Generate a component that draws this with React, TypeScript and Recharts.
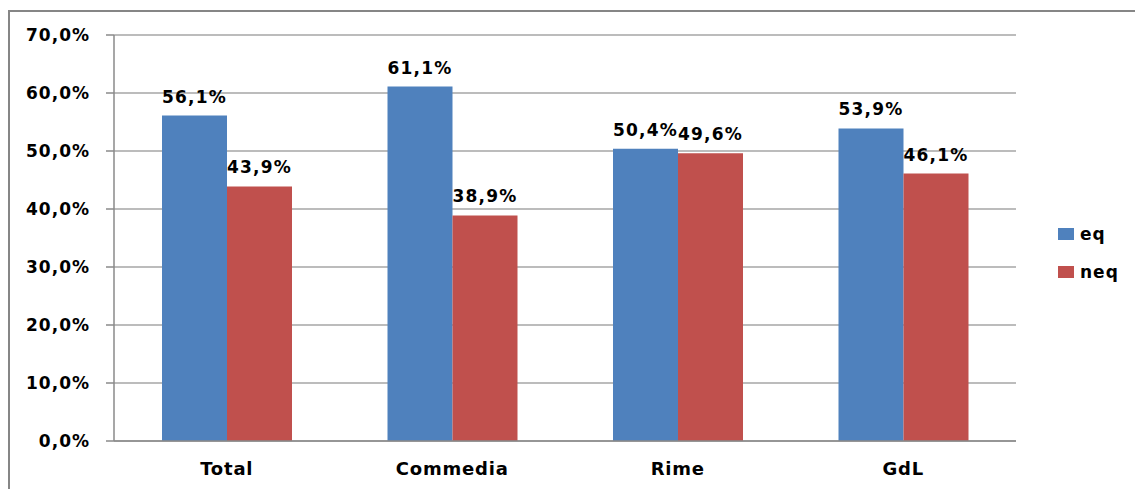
import React from 'react';
import { BarChart, Bar, XAxis, YAxis, CartesianGrid, LabelList, Legend } from 'recharts';

const CATEGORIES = ['Total', 'Commedia', 'Rime', 'GdL'];
const EQ_VALUES = [56.1, 61.1, 50.4, 53.9];
const NEQ_VALUES = [43.9, 38.9, 49.6, 46.1];
const Y_TICKS = [0, 10, 20, 30, 40, 50, 60, 70];
const EDGE_TICKS = [0, 1, 2, 3, 4];
const SERIES = [
  { key: 'eq', name: 'eq', color: '#4f81bd' },
  { key: 'neq', name: 'neq', color: '#c0504d' },
];

const data = CATEGORIES.map((c, i) => ({ name: c, eq: EQ_VALUES[i], neq: NEQ_VALUES[i] }));

const FONT = '"DejaVu Sans", Verdana, sans-serif';
const AXIS = '#8a8a8a';
const GRID = '#a6a6a6';

const fmt = (v: number) => v.toFixed(1).replace('.', ',') + '%';

const LegendContent = () => (
  <div style={{ fontFamily: FONT }}>
    {SERIES.map((s) => (
      <div key={s.key} style={{ display: 'flex', alignItems: 'center', height: 38 }}>
        <div style={{ width: 16, height: 12, background: s.color, marginRight: 6 }} />
        <span style={{ fontSize: 17, fontWeight: 'bold', color: '#000', letterSpacing: 1 }}>{s.name}</span>
      </div>
    ))}
  </div>
);

export default function App() {
  return (
    <div style={{ position: 'absolute', left: 0, top: 0, width: 1135, height: 489, overflow: 'hidden', background: '#fff' }}>
      <div
        style={{
          position: 'absolute',
          left: 8,
          top: 10,
          width: 1300,
          height: 700,
          border: '2px solid #868686',
        }}
      />
      <div style={{ position: 'absolute', left: 0, top: 0 }}>
        <BarChart
          width={1135}
          height={489}
          data={data}
          margin={{ top: 35, right: 119, bottom: 0, left: 0 }}
          barGap={0}
        >
          <CartesianGrid horizontal vertical={false} stroke={GRID} strokeWidth={1.5} />
          <XAxis
            xAxisId="edge"
            type="number"
            domain={[0, 4]}
            ticks={EDGE_TICKS}
            allowDataOverflow
            tick={false}
            tickSize={8}
            axisLine={false}
            tickLine={{ stroke: AXIS, strokeWidth: 1.5 }}
            height={0}
          />
          <XAxis
            xAxisId="cat"
            dataKey="name"
            height={48}
            tickSize={0}
            tickMargin={21}
            tickLine={false}
            axisLine={{ stroke: AXIS, strokeWidth: 1.5 }}
            tick={{ fill: '#000', fontSize: 18, fontWeight: 'bold', fontFamily: FONT, letterSpacing: 0.8 }}
            interval={0}
          />
          <YAxis
            width={114}
            domain={[0, 70]}
            ticks={Y_TICKS}
            tickFormatter={fmt}
            tickSize={8}
            tickMargin={16}
            axisLine={{ stroke: AXIS, strokeWidth: 1.5 }}
            tickLine={{ stroke: AXIS, strokeWidth: 1.5 }}
            tick={{ fill: '#000', fontSize: 17, fontWeight: 'bold', fontFamily: FONT, letterSpacing: 1 }}
          />
          <Legend
            layout="vertical"
            align="center"
            verticalAlign="middle"
            content={LegendContent}
            wrapperStyle={{ left: 1058, top: 215, width: 80 }}
          />
          {SERIES.map((s) => (
            <Bar key={s.key} xAxisId="cat" dataKey={s.key} name={s.name} fill={s.color} barSize={65} isAnimationActive={false}>
              <LabelList
                dataKey={s.key}
                position="top"
                offset={13}
                formatter={(v: any) => fmt(Number(v))}
                fill="#000"
                fontSize={17}
                fontWeight="bold"
                fontFamily={FONT}
                letterSpacing={1.2}
              />
            </Bar>
          ))}
        </BarChart>
      </div>
    </div>
  );
}
